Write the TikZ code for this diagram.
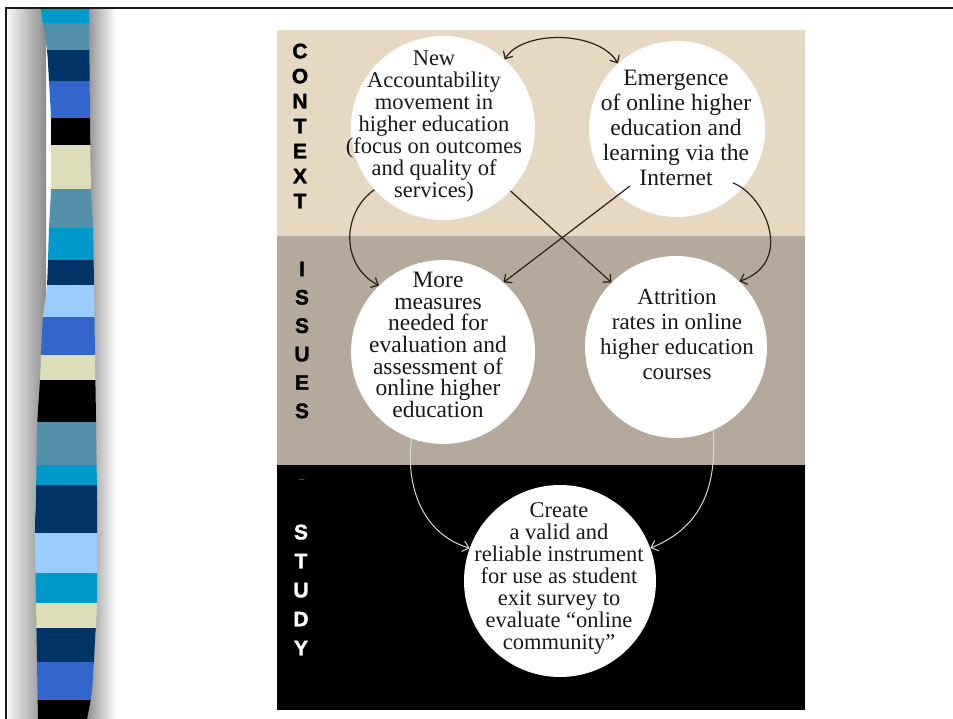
\documentclass[tikz,border=0pt]{standalone}
\usepackage{fontspec}
\setmainfont{Liberation Serif}
\setsansfont{Liberation Sans}
\newfontfamily\bandfont[FakeBold=1.5]{Liberation Sans Bold}
\usetikzlibrary{arrows.meta,shapes}

\definecolor{ctxbg}{RGB}{231,216,194}
\definecolor{issbg}{RGB}{180,169,155}
\definecolor{ink}{RGB}{40,32,26}
\definecolor{stripcyan}{RGB}{0,153,204}
\definecolor{stripsteel}{RGB}{85,144,170}
\definecolor{stripnavy}{RGB}{0,51,102}
\definecolor{stripblue}{RGB}{51,102,204}
\definecolor{stripsky}{RGB}{153,204,255}
\definecolor{stripsand}{RGB}{221,222,184}

\tikzset{
  bubble/.style      = {circle, fill=white, inner sep=0pt},
  bubble text/.style = {align=center, text=black!90, inner sep=0pt},
  band label/.style  = {align=center, inner sep=0pt,
                        font=\fontsize{21}{25}\bandfont},
  link/.style        = {->, draw=ink, line width=1.2pt},
  white link/.style  = {->, draw=white!85!black, line width=1pt}
}

\begin{document}
\begin{tikzpicture}[x=1pt, y=-1pt,
    >={Straight Barb[length=6pt,width=11pt]}]

  \useasboundingbox (0,0) rectangle (953,719);
  \fill[white] (0,0) rectangle (953,719);

  % shaded gutter and the striped ribbon on the left
  \shade[left color=black!5, right color=black!45] (8,8) rectangle (46,719);
  \shade[left color=black!45, right color=white] (86,8) rectangle (116,719);
  \begin{scope}
    \clip plot[smooth] coordinates {(41,8) (43,25) (47,50) (49,81) (51,118)
        (51,150) (51,189) (49,228) (47,285) (43,317) (41,355) (40,380)
        (37,430) (36,500) (35,530) (36,600) (37,660) (38,719)}
      -- plot[smooth] coordinates {(87,719) (92,690) (95,640) (97,600)
        (97,500) (96,420) (95,355) (94,285) (93,228) (91,189) (90,118)
        (89,8)} -- cycle;
    \foreach \ya/\yb/\c in {8/23/stripcyan, 23/50/stripsteel,
        50/81/stripnavy, 81/118/stripblue, 118/145/black,
        145/189/stripsand, 189/228/stripsteel, 228/260/stripcyan,
        260/285/stripnavy, 285/317/stripsky, 317/355/stripblue,
        355/380/stripsand, 380/422/black, 422/465/stripsteel,
        465/485/stripcyan, 485/533/stripnavy, 533/573/stripsky,
        573/603/stripcyan, 603/628/stripsand, 628/662/stripnavy,
        662/700/stripblue, 700/719/black}
      \fill[\c] (30,\ya) rectangle (110,\yb);
  \end{scope}

  % slide frame
  \draw[line width=2.8pt, black!90] (6,719) -- (6,8) -- (953,8);

  % the three bands
  \fill[ctxbg] (277,30) rectangle (805,236);
  \fill[issbg] (277,236) rectangle (805,465);
  \fill[black] (277,465) rectangle (805,710);

  \node[band label] (context) at (300,126) {C\\O\\N\\T\\E\\X\\T};
  \node[band label, font=\fontsize{21}{28.4}\bandfont]
    (issues) at (302,340) {I\\S\\S\\U\\E\\S};
  \node[band label, text=white, font=\fontsize{21}{29}\bandfont]
    (study) at (301,590) {S\\T\\U\\D\\Y};
  \node[text=black!60, font=\sffamily] (gap) at (302,481) {--};

  % circles
  \node[bubble, minimum size=184pt] (account) at (443,128) {};
  \node[bubble, minimum size=176pt] (emerge) at (677,129) {};
  \node[bubble, minimum size=184pt] (measure) at (443,352) {};
  \node[bubble, minimum size=182pt] (attrit) at (676,347) {};
  \node[bubble, minimum size=192pt] (survey) at (560,581) {};

  \node[bubble text, font=\fontsize{22.5}{22}\selectfont] (account txt)
    at (434,127) {New\\Accountability\\movement in\\higher education\\
    (focus on outcomes\\and quality of\\services)};
  \node[bubble text, font=\fontsize{23.5}{25}\selectfont] (emerge txt)
    at (676,128) {Emergence\\of online higher\\education and\\
    learning via the\\Internet};
  \node[bubble text, font=\fontsize{23.5}{21.7}\selectfont] (measure txt)
    at (438,345) {More\\measures\\needed for\\evaluation and\\
    assessment of\\online higher\\education};
  \node[bubble text, font=\fontsize{23}{25}\selectfont] (attrit txt)
    at (677,334) {Attrition\\rates in online\\higher education\\courses};
  \node[bubble text, font=\fontsize{22.5}{22}\selectfont] (survey txt)
    at (559,578) {Create\\a valid and\\reliable instrument\\
    for use as student\\exit survey to\\evaluate ``online\\community''};

  % links between the circles
  \draw[link, <->] (account.48) .. controls (522,30) and (598,30) .. (emerge.132);
  \draw[link] (account.222) .. controls (342,212) and (340,265) .. (measure.134);
  \draw[link] (account.-43) -- (attrit.135);
  \draw[link] ([shift={(-47,57)}]emerge.center) -- (measure.49);
  \draw[link] ([shift={(56,54)}]emerge.center)
    .. controls (765,195) and (795,262) .. (attrit.46);
  \draw[white link] (measure.250) .. controls (405,490) and (425,535) .. (survey.160);
  \draw[white link] (attrit.-66) .. controls (718,495) and (695,530) .. (survey.20);

\end{tikzpicture}
\end{document}
